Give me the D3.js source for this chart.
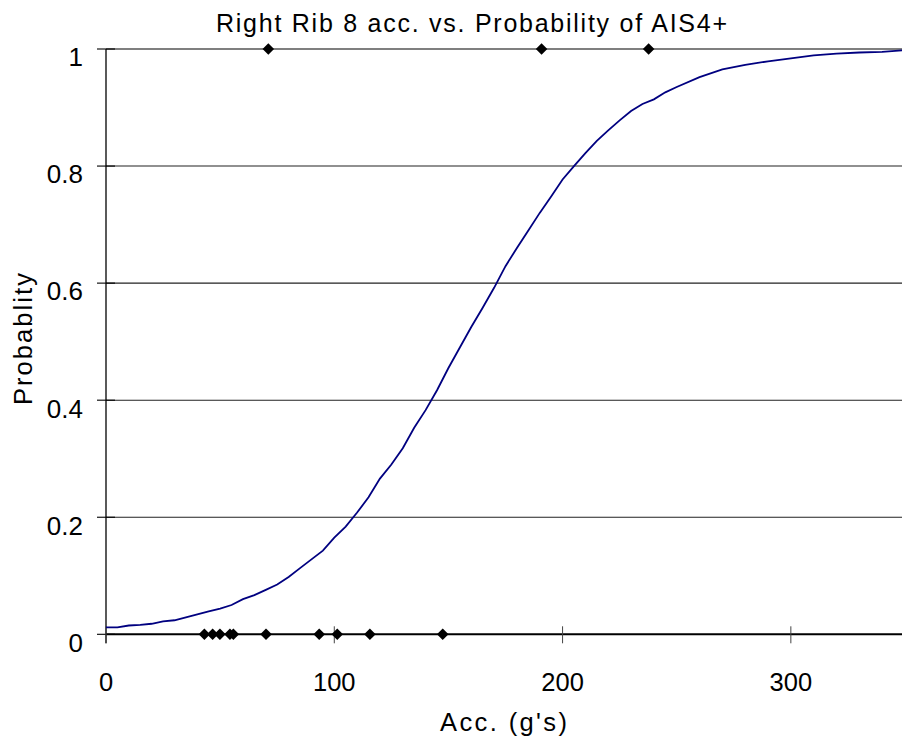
<!DOCTYPE html>
<html>
<head>
<meta charset="utf-8">
<script src="https://cdn.jsdelivr.net/npm/d3@7"></script>
<style>
  body { margin: 0; background: #fff; }
  text { font-family: Arial, "Liberation Sans", sans-serif; fill: #000; }
</style>
</head>
<body>
<script>
// fitted curve
const curveX = [0, 5, 10, 15, 20, 25, 30, 35, 40, 45, 50, 55, 60, 65, 70, 75, 80, 85, 90, 95,
  100, 105, 110, 115, 120, 125, 130, 135, 140, 145, 150, 155, 160, 165, 170, 175, 180, 185, 190, 195,
  200, 205, 210, 215, 220, 225, 230, 235, 240, 245, 250, 260, 270, 280, 290, 300, 310, 320, 330, 340, 350];
const curveP = [0.012, 0.012, 0.015, 0.016, 0.018, 0.022, 0.024, 0.029, 0.034, 0.039, 0.044, 0.05, 0.06, 0.067, 0.076, 0.085, 0.098, 0.113, 0.128, 0.143,
  0.165, 0.184, 0.208, 0.234, 0.266, 0.29, 0.318, 0.353, 0.383, 0.417, 0.455, 0.49, 0.525, 0.558, 0.592, 0.629, 0.66, 0.69, 0.72, 0.748,
  0.777, 0.8, 0.822, 0.843, 0.861, 0.878, 0.894, 0.906, 0.914, 0.926, 0.935, 0.952, 0.965, 0.973, 0.979, 0.984, 0.989, 0.992, 0.994, 0.995, 0.998];

// observed cases
const injuredX = [71.1, 190.8, 237.7];
const uninjuredX = [43.1, 46.7, 49.9, 54.3, 55.8, 70.1, 93.4, 101.3, 115.6, 147.5];

const xTicks = [0, 100, 200, 300];
const yTicks = [0, 0.2, 0.4, 0.6, 0.8, 1];

const width = 902, height = 742;
const mLeft = 106, mRight = 905, mTop = 49, mBottom = 634.3;

const svg = d3.select("body").append("svg")
  .attr("width", width)
  .attr("height", height);

const x = d3.scaleLinear().domain([0, 350]).range([mLeft, mRight]);
const y = d3.scaleLinear().domain([0, 1]).range([mBottom, mTop]);

// gridlines
svg.append("g")
  .selectAll("line")
  .data(yTicks.filter(d => d > 0))
  .join("line")
    .attr("x1", mLeft).attr("x2", mRight)
    .attr("y1", d => y(d)).attr("y2", d => y(d))
    .attr("stroke", d => d === 1 ? "#000" : "#222")
    .attr("stroke-width", 1.1);

// y axis with cross ticks
const yAxis = svg.append("g").attr("transform", `translate(${mLeft},0)`);
yAxis.append("line")
  .attr("x1", 0).attr("x2", 0)
  .attr("y1", mTop).attr("y2", mBottom + 9)
  .attr("stroke", "#000").attr("stroke-width", 1.3);
yAxis.selectAll("line.tick")
  .data(yTicks)
  .join("line")
    .attr("class", "tick")
    .attr("x1", -9).attr("x2", 9)
    .attr("y1", d => y(d)).attr("y2", d => y(d))
    .attr("stroke", "#000").attr("stroke-width", 1.1);
yAxis.selectAll("text")
  .data(yTicks)
  .join("text")
    .attr("x", -23)
    .attr("y", d => y(d) + 8)
    .attr("dy", "0.36em")
    .attr("text-anchor", "end")
    .attr("font-size", 26)
    .text(d => d3.format("")(d));

// x axis
const xAxis = svg.append("g").attr("transform", `translate(0,${mBottom})`);
xAxis.append("line")
  .attr("x1", mLeft).attr("x2", mRight)
  .attr("stroke", "#000").attr("stroke-width", 2);
xAxis.selectAll("line.tick")
  .data(xTicks)
  .join("line")
    .attr("class", "tick")
    .attr("x1", d => x(d)).attr("x2", d => x(d))
    .attr("y1", -8).attr("y2", 9)
    .attr("stroke", "#444").attr("stroke-width", 1);
xAxis.selectAll("text")
  .data(xTicks)
  .join("text")
    .attr("x", d => x(d))
    .attr("y", 48)
    .attr("dy", "0.36em")
    .attr("text-anchor", "middle")
    .attr("font-size", 25.5)
    .text(d => d);

// curve
const line = d3.line()
  .x(d => x(d[0]))
  .y(d => y(d[1]));

svg.append("path")
  .datum(curveX.map((v, i) => [v, curveP[i]]))
  .attr("d", line)
  .attr("fill", "none")
  .attr("stroke", "#000080")
  .attr("stroke-width", 1.8);

// markers
const diamond = d3.symbol().type(d3.symbolDiamond2).size(85);
const pts = injuredX.map(v => [v, 1]).concat(uninjuredX.map(v => [v, 0]));
svg.append("g")
  .selectAll("path")
  .data(pts)
  .join("path")
    .attr("transform", d => `translate(${x(d[0])},${y(d[1])})`)
    .attr("d", diamond)
    .attr("fill", "#000");

// titles (the original text is set wide, so stretch the spacing)
svg.append("text")
  .attr("x", 216).attr("y", 32)
  .attr("font-size", 25)
  .attr("textLength", 511)
  .attr("lengthAdjust", "spacing")
  .text("Right Rib 8 acc. vs. Probability of AIS4+");

svg.append("text")
  .attr("x", 440).attr("y", 731)
  .attr("font-size", 25.5)
  .attr("textLength", 127)
  .attr("lengthAdjust", "spacing")
  .text("Acc. (g's)");

svg.append("text")
  .attr("transform", `translate(32,405) rotate(-90)`)
  .attr("font-size", 25.5)
  .attr("textLength", 132)
  .attr("lengthAdjust", "spacing")
  .text("Probablity");
</script>
</body>
</html>
